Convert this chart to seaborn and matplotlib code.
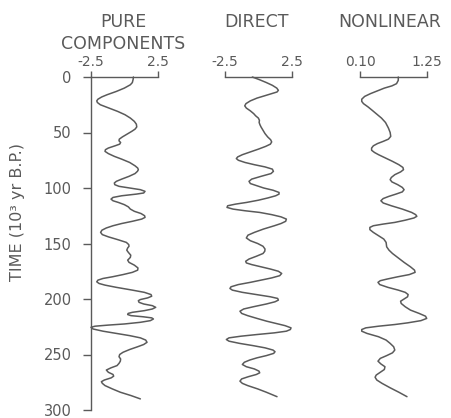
import matplotlib
matplotlib.use("Agg")
import matplotlib.pyplot as plt
import numpy as np
import pandas as pd
import seaborn as sns

# ---- data ----
pure_pts = [
    (0, 0.68), (2, 0.66), (5, 0.6), (7, 0.45), (10, 0.0), (13, -0.6), (16, -1.3), (18, -1.7),
    (20, -1.98), (21.5, -2.07), (23, -2.02), (25, -1.8), (28, -1.15), (31, -0.5), (34, 0.05),
    (37, 0.45), (40, 0.75), (42.5, 0.9), (45, 0.93), (47, 0.8), (49, 0.55), (51.5, 0.2),
    (54, -0.15), (56, -0.38), (57.5, -0.4), (59, -0.28), (60.5, -0.35), (62, -0.7), (64, -1.2),
    (65.5, -1.42), (67, -1.45), (69, -1.2), (71.5, -0.75), (74, -0.2), (77, 0.4), (80, 0.8),
    (82, 1.0), (83.5, 1.05), (85, 0.98), (87, 0.8), (89.5, 0.35), (92, -0.2), (94, -0.6),
    (95.5, -0.75), (97, -0.72), (98.5, -0.4), (100, 0.4), (101.5, 1.2), (103, 1.55),
    (104.5, 1.45), (105.5, 0.9), (107, -0.2), (108.5, -0.85), (110, -1.0), (111.5, -0.85),
    (113, -0.45), (115, 0.0), (117, 0.3), (119, 0.45), (121, 0.75), (123, 1.25), (125, 1.52),
    (126.5, 1.55), (128, 1.3), (130, 0.6), (132, -0.2), (134, -0.85), (136, -1.35),
    (138, -1.68), (140, -1.78), (142, -1.65), (144, -1.2), (146.5, -0.5), (149, 0.15),
    (151, 0.33), (152.5, 0.35), (154, 0.25), (156, 0.18), (158, 0.3), (160.5, 0.48),
    (162.5, 0.45), (165, 0.25), (167, 0.35), (169.5, 0.75), (172, 1.02), (174, 1.0),
    (176, 0.6), (178, -0.1), (180, -0.9), (181.5, -1.6), (183, -1.98), (184.5, -2.07),
    (186, -1.9), (187.5, -1.45), (189.5, -0.6), (192, 0.6), (194, 1.5), (196, 2.0),
    (197.5, 2.05), (199, 1.75), (200.5, 1.2), (201.5, 1.05), (203, 1.1), (204.5, 1.45),
    (206, 2.1), (207.5, 2.35), (209, 2.1), (210.5, 1.5), (212, 0.6), (213, 0.28), (214, 0.25),
    (215, 0.5), (216, 1.4), (217, 2.05), (218, 2.18), (219.5, 1.95), (221, 1.2), (222.5, 0.0),
    (223.5, -1.2), (224.5, -2.2), (225.5, -2.5), (227, -2.35), (229, -1.6), (231, -0.6),
    (233, 0.4), (235, 1.2), (237, 1.6), (239, 1.7), (241, 1.45), (243, 1.0), (245.5, 0.4),
    (248, -0.1), (250, -0.35), (252, -0.4), (254, -0.28), (256, -0.3), (258, -0.4),
    (260, -0.55), (262, -1.0), (264, -1.35), (266, -1.2), (268, -0.85), (269.5, -0.8),
    (271, -0.98), (273, -1.5), (274.5, -1.72), (276, -1.65), (278, -1.45), (281, -0.9),
    (284, -0.3), (287, 0.5), (290, 1.2)]
time_pure = [p[0] for p in pure_pts]
val_pure = [p[1] for p in pure_pts]

direct_pts = [
    (0, -0.45), (2.5, 0.1), (5, 0.6), (7.5, 1.05), (10, 1.38), (12, 1.5), (13.5, 1.4),
    (15, 1.0), (17, 0.45), (19, -0.1), (21.5, -0.6), (24, -0.93), (26, -1.02), (28, -0.9),
    (30.5, -0.6), (33, -0.35), (35, -0.2), (37, 0.0), (39, 0.08), (41, 0.06), (43, 0.12),
    (45, 0.2), (48, 0.35), (51, 0.5), (54, 0.7), (56.5, 0.92), (58.5, 1.0), (60.5, 0.9),
    (62.5, 0.55), (65, 0.0), (67.5, -0.6), (70, -1.2), (72, -1.55), (73.5, -1.65), (75, -1.5),
    (77, -1.0), (79, -0.3), (81, 0.5), (83, 1.05), (85, 1.13), (87, 0.95), (89.5, 0.2),
    (92, -0.5), (94, -0.7), (96, -0.6), (98, -0.1), (100, 0.4), (102, 1.1), (104, 1.55),
    (105.5, 1.55), (107, 1.3), (109, 0.7), (111, 0.0), (113, -0.88), (114.5, -1.7),
    (116, -2.3), (117.5, -2.35), (119, -1.9), (120.5, -1.0), (122, 0.1), (124, 1.0),
    (126, 1.7), (128, 2.1), (130, 2.05), (132, 1.7), (134, 1.2), (137, 0.38), (140, -0.3),
    (142.5, -0.78), (145, -0.9), (147.5, -0.6), (150, -0.05), (152.5, 0.35), (155, 0.5),
    (157, 0.48), (159, 0.35), (161.5, -0.15), (164, -0.7), (166, -0.95), (167.5, -0.9),
    (169, -0.5), (171, 0.2), (173, 0.9), (175, 1.5), (177, 1.75), (179, 1.6), (181, 1.0),
    (183, 0.2), (185, -0.6), (187, -1.5), (189, -2.05), (190.5, -2.13), (192, -1.95),
    (194, -1.2), (196, -0.15), (198, 0.9), (199.5, 1.45), (201, 1.5), (202.5, 1.25),
    (204.5, 0.6), (207, -0.38), (209, -1.1), (211, -1.38), (213, -1.25), (215, -0.8),
    (217.5, -0.1), (220, 0.63), (222, 1.3), (224, 2.0), (226, 2.45), (227.5, 2.4),
    (229, 2.1), (230.5, 1.2), (232, -0.1), (233.5, -1.3), (235, -2.2), (236.5, -2.4),
    (238, -2.2), (240, -1.4), (242, -0.4), (244, 0.5), (246, 1.1), (247.5, 1.25),
    (249, 1.15), (251, 0.6), (253, -0.1), (255, -0.65), (257, -1.05), (259, -1.2),
    (261, -0.9), (263, -0.3), (265, 0.05), (266.5, 0.1), (268, -0.15), (270, -0.75),
    (272, -1.25), (274, -1.38), (276, -1.2), (278, -0.8), (281, -0.05), (284, 0.6),
    (288, 1.4)]
time_direct = [p[0] for p in direct_pts]
val_direct = [p[1] for p in direct_pts]

nonlin_pts = [
    (0, 0.76), (3, 0.76), (6, 0.73), (8, 0.65), (10, 0.52), (12.5, 0.4), (15, 0.28),
    (17.5, 0.18), (20, 0.13), (22, 0.13), (24, 0.16), (27, 0.24), (30, 0.31), (33.5, 0.39),
    (37, 0.47), (41, 0.54), (46, 0.59), (50, 0.62), (53.5, 0.63), (56, 0.59), (58, 0.5),
    (60, 0.4), (62, 0.33), (64, 0.3), (66, 0.3), (68, 0.35), (70, 0.42), (73, 0.54),
    (76, 0.66), (79, 0.77), (81.5, 0.84), (83.5, 0.85), (85.5, 0.8), (88, 0.7), (90.5, 0.64),
    (92.5, 0.62), (94.5, 0.65), (97, 0.75), (99.5, 0.83), (101.5, 0.86), (103.5, 0.83),
    (105.5, 0.72), (107.5, 0.6), (109.5, 0.5), (111.5, 0.46), (113.5, 0.5), (116, 0.64),
    (119, 0.83), (122, 0.99), (124, 1.06), (125.5, 1.08), (127, 1.03), (129, 0.88),
    (131, 0.7), (132.5, 0.5), (134, 0.33), (135.5, 0.27), (137.5, 0.27), (140, 0.33),
    (143, 0.42), (146, 0.51), (149, 0.55), (153, 0.56), (156, 0.6), (159, 0.66), (163, 0.76),
    (167, 0.86), (171, 0.97), (174, 1.04), (176, 1.05), (178, 0.95), (180, 0.75), (182, 0.57),
    (183.5, 0.45), (185, 0.41), (187, 0.44), (189.5, 0.58), (192, 0.76), (194, 0.88),
    (196, 0.93), (198, 0.92), (200, 0.86), (202, 0.8), (204, 0.81), (207, 0.88), (210, 0.97),
    (213, 1.12), (215.5, 1.23), (217.5, 1.25), (219.5, 1.15), (221.5, 0.92), (223, 0.7),
    (224.5, 0.42), (226, 0.2), (227.5, 0.13), (229, 0.13), (231, 0.22), (234, 0.42),
    (237, 0.55), (240, 0.62), (243, 0.68), (246, 0.7), (248.5, 0.66), (251, 0.56),
    (253.5, 0.45), (256, 0.41), (258.5, 0.46), (261, 0.53), (263.5, 0.52), (266, 0.45),
    (268.5, 0.38), (270.5, 0.36), (273, 0.39), (276, 0.48), (280, 0.62), (284, 0.77),
    (288, 0.91)]
time_nonlin = [p[0] for p in nonlin_pts]
val_nonlin = [p[1] for p in nonlin_pts]

titles = ["PURE", "COMPONENTS", "DIRECT", "NONLINEAR"]
xlims = [(-2.5, 2.5), (-2.5, 2.5), (0.10, 1.25)]
xticklabels = [["-2.5", "2.5"], ["-2.5", "2.5"], ["0.10", "1.25"]]
yticks = [0, 50, 100, 150, 200, 250, 300]
ylabel = "TIME (10³ yr B.P.)"

# ---- figure ----
sns.set_style("white")
plt.rcParams["font.family"] = ["DejaVu Sans"]
INK = "#5a5a5a"
W, H = 451, 418
fig = plt.figure(figsize=(W / 100, H / 100), dpi=100)
fig.patch.set_facecolor("white")

def rect(x0, x1, y0, y1):
    return [x0 / W, 1 - y1 / H, (x1 - x0) / W, (y1 - y0) / H]

lefts = [(91, 157.7), (225, 291.7), (360, 426.7)]
series = [(time_pure, val_pure), (time_direct, val_direct), (time_nonlin, val_nonlin)]

for i, ((x0, x1), (t, v)) in enumerate(zip(lefts, series)):
    ax = fig.add_axes(rect(x0, x1, 77, 410))
    df = pd.DataFrame({"time": t, "value": v})
    sns.lineplot(data=df, x="value", y="time", sort=False, estimator=None,
                 color=INK, linewidth=1.1, ax=ax, clip_on=False)
    ax.set_xlim(*xlims[i])
    ax.set_ylim(300, 0)
    ax.set_xlabel("")
    ax.set_ylabel("")
    ax.set_facecolor("none")
    for s in ["right", "bottom"]:
        ax.spines[s].set_visible(False)
    ax.spines["top"].set_color(INK)
    ax.spines["top"].set_linewidth(1.0)
    ax.xaxis.tick_top()
    ax.set_xticks(list(xlims[i]))
    ax.set_xticklabels(xticklabels[i])
    ax.tick_params(axis="x", direction="out", length=4, width=1.0, pad=2,
                   labelsize=10, colors=INK)
    if i == 0:
        ax.spines["left"].set_color(INK)
        ax.spines["left"].set_linewidth(1.0)
        ax.set_yticks(yticks)
        ax.set_yticklabels([str(y) for y in yticks])
        ax.tick_params(axis="y", direction="out", length=6, width=1.0, pad=8,
                       labelsize=10.5, colors=INK, left=True)
    else:
        ax.spines["left"].set_visible(False)
        ax.set_yticks([])

# titles
fig.text(123 / W, 1 - 22 / H, titles[0], ha="center", va="center", fontsize=12.5, color=INK)
fig.text(123 / W, 1 - 44 / H, titles[1], ha="center", va="center", fontsize=12.5, color=INK)
fig.text(257 / W, 1 - 22 / H, titles[2], ha="center", va="center", fontsize=12.5, color=INK)
fig.text(390 / W, 1 - 22 / H, titles[3], ha="center", va="center", fontsize=12.5, color=INK)

fig.text(18 / W, 1 - 212 / H, ylabel, rotation=90, ha="center", va="center",
         fontsize=11.5, color=INK)

fig.savefig("out.png", dpi=100, facecolor="white")
